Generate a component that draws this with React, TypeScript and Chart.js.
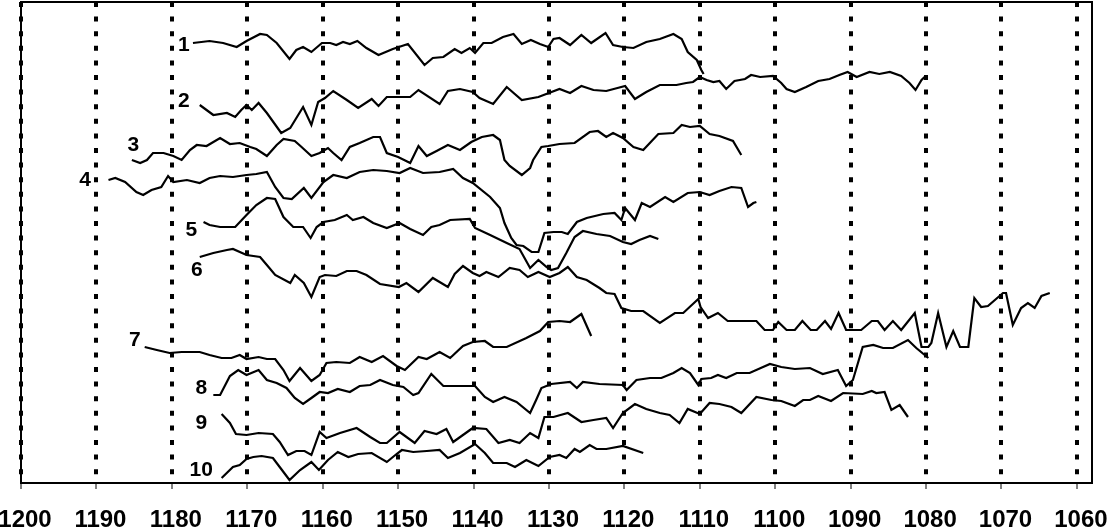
import React, { useEffect, useRef } from 'react';
import { Chart, registerables } from 'chart.js';

Chart.register(...registerables);

// Wavenumber tick labels (axis runs from high to low)
const xTicks = [1200, 1190, 1180, 1170, 1160, 1150, 1140, 1130, 1120, 1110, 1100, 1090, 1080, 1070, 1060];
const xMin = 1058;
const xMax = 1200;
const yMin = 0;
const yMax = 481;

// Curve names and where they are written (data units)
const curveNames = ['1', '2', '3', '4', '5', '6', '7', '8', '9', '10'];
const nameX = [1178.4, 1178.4, 1185.1, 1191.5, 1177.4, 1176.7, 1184.9, 1176.1, 1176.1, 1176.1];
const nameY = [438, 382, 338, 303, 253, 213, 143, 95, 60, 13];

// Series: [wavenumber, offset intensity]
const series1 = [
  [1177.2, 440], [1175.0, 442], [1173.2, 440], [1171.4, 436], [1170.1, 442], [1168.3, 449], [1167.4, 448], [1166.1, 440],
  [1164.4, 424], [1163.5, 433], [1162.6, 436], [1161.5, 431], [1160.1, 440], [1159.0, 440], [1158.2, 438], [1157.3, 441],
  [1156.4, 439], [1155.4, 442], [1154.2, 435], [1152.6, 428], [1150.7, 434], [1148.7, 439], [1146.5, 418], [1145.4, 425],
  [1144.0, 426], [1142.5, 434], [1141.6, 430], [1140.5, 435], [1139.8, 430], [1138.7, 440], [1137.6, 440], [1136.1, 446],
  [1134.7, 449], [1133.6, 439], [1132.4, 443], [1131.2, 439], [1130.1, 436], [1129.4, 444], [1128.6, 445], [1127.2, 438],
  [1125.7, 448], [1124.4, 440], [1122.5, 450], [1121.5, 438], [1120.2, 436], [1118.8, 435], [1117.1, 441], [1115.3, 444],
  [1113.5, 449], [1112.4, 444], [1111.6, 431], [1110.4, 423], [1109.8, 413], [1109.5, 409],
];
const series2 = [
  [1176.3, 378], [1174.5, 368], [1172.7, 370], [1171.6, 366], [1170.8, 373], [1170.1, 378], [1169.4, 373], [1168.5, 380],
  [1167.4, 370], [1165.5, 350], [1164.3, 355], [1162.6, 376], [1161.5, 358], [1160.6, 381], [1159.7, 385], [1158.6, 392],
  [1156.8, 383], [1155.3, 375], [1153.5, 384], [1152.6, 377], [1151.5, 386], [1150.2, 386], [1148.4, 386], [1147.3, 393],
  [1144.5, 379], [1143.4, 392], [1141.8, 394], [1140.1, 391], [1139.2, 385], [1137.4, 379], [1135.6, 396], [1133.6, 383],
  [1131.4, 386], [1128.6, 394], [1127.2, 390], [1125.7, 397], [1124.1, 393], [1122.4, 392], [1119.9, 397], [1118.6, 384],
  [1117.1, 391], [1115.3, 398], [1113.1, 398], [1111.8, 400], [1110.9, 401], [1110.0, 406], [1109.1, 403], [1108.2, 401],
  [1107.4, 402], [1106.5, 394], [1105.4, 402], [1104.0, 404], [1103.2, 408], [1102.0, 406], [1100.3, 407], [1099.2, 400],
  [1098.5, 394], [1097.4, 391], [1095.9, 396], [1094.3, 402], [1092.8, 404], [1091.5, 408], [1090.4, 411], [1089.2, 406],
  [1087.5, 411], [1086.2, 409], [1084.8, 411], [1083.3, 407], [1082.2, 400], [1081.4, 393], [1080.6, 403], [1080.2, 406],
];
const series3 = [
  [1185.3, 323], [1184.2, 320], [1183.3, 323], [1182.5, 330], [1181.1, 330], [1179.8, 327], [1178.7, 323], [1177.6, 333],
  [1176.7, 338], [1175.4, 337], [1173.6, 345], [1172.3, 339], [1171.0, 340], [1169.6, 336], [1168.8, 334], [1167.4, 327],
  [1166.1, 338], [1165.2, 344], [1163.7, 342], [1162.8, 336], [1161.5, 327], [1160.4, 330], [1159.3, 335], [1158.6, 330],
  [1157.5, 323], [1156.4, 336], [1155.1, 340], [1153.3, 346], [1152.4, 346], [1151.5, 330], [1150.0, 326], [1148.4, 320],
  [1147.3, 337], [1146.2, 327], [1144.9, 332], [1143.4, 338], [1141.8, 333], [1140.3, 341], [1138.9, 346], [1137.4, 348],
  [1136.5, 343], [1135.9, 323], [1135.2, 317], [1133.6, 308], [1132.5, 315], [1132.1, 323], [1131.0, 336], [1130.1, 337],
  [1128.6, 339], [1126.6, 340], [1124.6, 351], [1123.5, 352], [1122.4, 346], [1121.5, 350], [1120.2, 345], [1118.8, 336],
  [1117.5, 333], [1115.5, 349], [1113.5, 350], [1112.4, 358], [1111.3, 356], [1110.0, 357], [1108.7, 349], [1107.4, 347],
  [1105.6, 342], [1104.5, 328],
];
const series4 = [
  [1188.4, 303], [1187.5, 305], [1186.2, 301], [1184.7, 291], [1183.8, 288], [1182.7, 293], [1181.4, 296], [1180.5, 307],
  [1179.8, 301], [1178.0, 303], [1176.3, 300], [1175.0, 305], [1173.6, 307], [1171.9, 306], [1170.1, 308], [1168.8, 309],
  [1167.4, 311], [1166.3, 296], [1165.2, 285], [1164.1, 284], [1162.5, 295], [1161.5, 285], [1159.9, 301], [1158.6, 308],
  [1156.8, 305], [1155.1, 311], [1153.3, 313], [1151.5, 312], [1149.8, 310], [1148.4, 315], [1146.7, 310], [1144.5, 311],
  [1142.7, 314], [1141.4, 305], [1140.1, 300], [1137.8, 286], [1136.5, 275], [1135.9, 260], [1135.0, 245], [1134.3, 238],
  [1133.4, 237], [1132.3, 231], [1131.4, 231], [1130.6, 250], [1129.4, 251], [1128.3, 251], [1127.5, 249], [1126.3, 261],
  [1125.0, 265], [1122.8, 269], [1121.3, 270], [1120.4, 263], [1119.9, 275], [1118.6, 263], [1117.7, 280], [1116.6, 276],
  [1114.6, 286], [1113.5, 281], [1111.6, 290], [1110.0, 291], [1108.7, 288], [1107.4, 292], [1105.8, 296], [1104.5, 295],
  [1103.6, 276], [1102.9, 280], [1102.5, 281],
];
const series5 = [
  [1175.8, 261], [1175.0, 258], [1173.6, 256], [1171.6, 256], [1170.1, 268], [1168.8, 278], [1167.4, 285], [1166.3, 284],
  [1165.2, 266], [1163.9, 256], [1162.6, 256], [1161.6, 245], [1160.8, 256], [1159.9, 261], [1158.4, 263], [1156.8, 268],
  [1156.0, 263], [1154.6, 266], [1153.3, 260], [1151.5, 255], [1149.8, 260], [1148.4, 254], [1146.7, 248], [1145.6, 256],
  [1144.5, 258], [1143.1, 263], [1140.5, 264], [1139.8, 255], [1137.8, 248], [1135.6, 240], [1133.9, 234], [1132.5, 215],
  [1131.4, 223], [1130.3, 216], [1129.7, 213], [1128.8, 215], [1127.7, 230], [1126.6, 246], [1125.5, 252], [1123.7, 249],
  [1121.9, 247], [1120.2, 241], [1119.1, 239], [1118.0, 243], [1116.6, 247], [1115.5, 244],
];
const series6 = [
  [1176.3, 226], [1174.5, 230], [1172.7, 233], [1171.9, 234], [1170.1, 228], [1168.3, 226], [1167.4, 218], [1166.3, 208],
  [1164.3, 200], [1163.7, 208], [1162.5, 200], [1161.5, 186], [1160.4, 206], [1159.7, 208], [1158.2, 207], [1156.8, 212],
  [1155.5, 212], [1154.2, 208], [1152.4, 199], [1149.9, 196], [1148.9, 200], [1147.3, 191], [1145.4, 205], [1143.4, 196],
  [1142.5, 209], [1141.4, 217], [1140.1, 210], [1139.2, 207], [1138.3, 211], [1136.7, 206], [1135.2, 215], [1133.9, 213],
  [1132.8, 206], [1131.4, 211], [1129.9, 206], [1128.6, 210], [1127.5, 216], [1126.3, 206], [1125.0, 203], [1123.3, 195],
  [1122.4, 190], [1121.3, 189], [1120.4, 175], [1119.1, 172], [1117.5, 172], [1115.3, 160], [1113.3, 170], [1112.2, 170],
  [1110.2, 184], [1109.9, 176], [1108.9, 165], [1107.6, 170], [1106.3, 162], [1102.5, 162], [1101.4, 153], [1100.3, 153],
  [1099.6, 161], [1098.5, 153], [1097.4, 153], [1096.4, 162], [1095.3, 153], [1094.5, 153], [1093.4, 162], [1092.6, 154],
  [1091.6, 170], [1090.6, 153], [1088.6, 153], [1087.2, 162], [1086.4, 162], [1085.5, 153], [1084.4, 162], [1083.3, 153],
  [1081.5, 170], [1080.6, 136], [1079.7, 136], [1079.3, 140], [1078.4, 170], [1077.3, 136], [1076.4, 152], [1075.5, 136],
  [1074.4, 136], [1073.6, 185], [1072.7, 176], [1071.8, 177], [1069.8, 190], [1069.4, 190], [1068.5, 158], [1067.4, 175],
  [1066.5, 180], [1065.6, 175], [1064.7, 187], [1063.6, 190],
];
const series7 = [
  [1183.6, 136], [1182.0, 133], [1180.3, 130], [1178.7, 131], [1176.3, 131], [1175.0, 128], [1173.4, 125], [1172.1, 125],
  [1171.0, 128], [1170.1, 124], [1168.5, 126], [1167.4, 124], [1166.3, 124], [1165.2, 113], [1164.4, 102], [1163.0, 115],
  [1161.5, 102], [1160.4, 108], [1159.5, 120], [1158.2, 121], [1156.4, 120], [1155.1, 126], [1153.5, 121], [1152.0, 127],
  [1150.2, 117], [1149.1, 113], [1147.3, 126], [1146.2, 124], [1144.5, 131], [1143.1, 125], [1141.4, 137], [1140.1, 141],
  [1138.5, 142], [1137.4, 136], [1135.6, 136], [1133.0, 145], [1131.2, 152], [1130.1, 161], [1128.6, 162], [1127.2, 161],
  [1125.7, 169], [1124.4, 147],
];
const series8 = [
  [1174.5, 88], [1173.6, 88], [1172.3, 107], [1171.2, 113], [1170.1, 108], [1168.5, 113], [1167.4, 103], [1166.1, 100],
  [1164.8, 95], [1163.7, 85], [1162.6, 79], [1161.5, 85], [1160.4, 91], [1159.3, 90], [1158.0, 94], [1156.4, 91],
  [1155.1, 97], [1153.7, 98], [1152.4, 103], [1150.7, 98], [1149.3, 96], [1148.0, 88], [1147.3, 90], [1145.6, 109],
  [1144.0, 97], [1142.3, 97], [1139.8, 97], [1138.5, 86], [1137.4, 81], [1135.9, 86], [1134.3, 81], [1132.5, 70],
  [1131.7, 83], [1131.0, 95], [1129.7, 99], [1127.2, 101], [1126.3, 95], [1125.5, 101], [1123.3, 99], [1120.2, 98],
  [1119.7, 93], [1118.4, 103], [1116.6, 105], [1115.1, 105], [1113.5, 110], [1112.4, 115], [1111.3, 110], [1110.2, 98],
  [1109.8, 104], [1108.5, 105], [1107.6, 108], [1106.5, 105], [1105.1, 110], [1103.4, 110], [1100.7, 119], [1099.2, 116],
  [1097.4, 114], [1095.4, 115], [1093.7, 109], [1091.7, 113], [1090.6, 97], [1089.7, 103], [1088.4, 136], [1087.0, 138],
  [1085.7, 135], [1084.4, 135], [1082.4, 143], [1081.3, 135], [1079.7, 125],
];
const series9 = [
  [1173.4, 69], [1172.3, 60], [1171.5, 49], [1170.1, 48], [1168.5, 50], [1166.6, 49], [1165.7, 41], [1164.6, 28],
  [1163.5, 32], [1162.4, 32], [1161.5, 28], [1160.4, 51], [1159.5, 45], [1157.7, 50], [1155.5, 55], [1153.7, 46],
  [1152.4, 40], [1151.5, 40], [1149.8, 51], [1147.8, 40], [1146.5, 52], [1144.9, 49], [1143.6, 54], [1142.7, 41],
  [1141.4, 48], [1140.1, 55], [1138.3, 54], [1136.7, 40], [1135.2, 43], [1133.9, 40], [1132.5, 50], [1131.4, 45],
  [1130.6, 66], [1129.4, 66], [1127.5, 70], [1125.7, 61], [1124.1, 63], [1122.4, 65], [1121.5, 55], [1120.2, 70],
  [1118.6, 79], [1117.1, 74], [1115.3, 70], [1114.0, 68], [1112.7, 60], [1111.6, 74], [1110.0, 69], [1108.7, 80],
  [1107.4, 79], [1105.8, 76], [1104.5, 70], [1102.5, 86], [1100.5, 83], [1099.2, 82], [1097.4, 77], [1096.3, 83],
  [1095.4, 83], [1094.3, 87], [1092.6, 82], [1091.0, 90], [1088.4, 89], [1087.2, 92], [1086.6, 90], [1085.5, 91],
  [1084.6, 73], [1083.5, 78], [1082.4, 66],
];
const series10 = [
  [1173.4, 5], [1171.9, 16], [1171.0, 18], [1170.1, 24], [1169.2, 26], [1168.1, 27], [1166.6, 25], [1165.6, 15],
  [1164.4, 3], [1163.0, 13], [1161.5, 21], [1160.5, 13], [1159.3, 23], [1158.0, 31], [1156.6, 26], [1155.3, 29],
  [1153.5, 30], [1151.5, 21], [1150.2, 29], [1149.5, 33], [1148.0, 31], [1146.2, 32], [1144.5, 33], [1143.4, 25],
  [1141.8, 30], [1139.8, 39], [1138.5, 30], [1137.4, 20], [1135.6, 20], [1134.5, 16], [1133.0, 23], [1131.4, 17],
  [1129.9, 26], [1128.6, 28], [1127.7, 25], [1126.6, 34], [1125.9, 31], [1124.6, 38], [1123.7, 34], [1122.4, 34],
  [1120.2, 37], [1117.5, 30],
];

const allSeries = [series1, series2, series3, series4, series5, series6, series7, series8, series9, series10];

const frameAndNames = {
  id: 'frameAndNames',
  afterDatasetsDraw(chart: any) {
    const { ctx, scales } = chart;
    ctx.save();
    ctx.fillStyle = '#000';
    ctx.font = 'bold 21px "Liberation Sans", Arial, sans-serif';
    ctx.textAlign = 'center';
    ctx.textBaseline = 'middle';
    curveNames.forEach((name, i) => {
      const px = scales.x.getPixelForValue(nameX[i]);
      const py = scales.y.getPixelForValue(nameY[i]);
      ctx.fillText(name, px, py);
    });
    ctx.restore();
  },
  afterDraw(chart: any) {
    const { ctx, chartArea } = chart;
    ctx.save();
    ctx.strokeStyle = '#000';
    ctx.lineWidth = 2;
    ctx.strokeRect(chartArea.left, chartArea.top, chartArea.right - chartArea.left, chartArea.bottom - chartArea.top);
    ctx.restore();
  },
};

export default function App() {
  const ref = useRef<HTMLCanvasElement>(null);
  useEffect(() => {
    document.body.style.margin = '0';
    const canvas = ref.current;
    if (!canvas) return;
    const chart = new Chart(canvas, {
      type: 'line',
      data: {
        datasets: allSeries.map((s, i) => ({
          label: curveNames[i],
          data: s.map(([x, y]) => ({ x, y })),
          borderColor: '#000',
          borderWidth: 2.2,
          pointRadius: 0,
          fill: false,
          tension: 0,
        })),
      },
      options: {
        animation: false,
        responsive: false,
        devicePixelRatio: 1,
        layout: { padding: { left: 21, right: 15, top: 2, bottom: 0 } },
        plugins: {
          legend: { display: false },
          tooltip: { enabled: false },
        },
        scales: {
          x: {
            type: 'linear',
            reverse: true,
            min: xMin,
            max: xMax,
            afterBuildTicks: (scale: any) => {
              scale.ticks = xTicks.map((v) => ({ value: v }));
            },
            afterFit: (scale: any) => {
              scale.height = 45;
              scale.paddingLeft = 0;
              scale.paddingRight = 0;
            },
            grid: {
              color: '#000',
              lineWidth: 4,
              drawTicks: true,
              tickLength: 6,
              tickWidth: 1,
              tickColor: '#000',
              borderDash: [5, 9.6],
            } as any,
            border: { display: false, dash: [5, 9.6] } as any,
            ticks: {
              color: '#000',
              padding: 17,
              labelOffset: 4,
              maxRotation: 0,
              autoSkip: false,
              font: { family: '"Liberation Sans", Arial, sans-serif', size: 24, weight: 'bold' },
              callback: (v: any) => String(v),
            },
          },
          y: {
            type: 'linear',
            display: false,
            min: yMin,
            max: yMax,
          },
        },
      },
      plugins: [frameAndNames],
    } as any);
    return () => chart.destroy();
  }, []);
  return (
    <div style={{ width: 1107, height: 528 }}>
      <canvas ref={ref} width={1107} height={528} style={{ display: 'block' }} />
    </div>
  );
}
